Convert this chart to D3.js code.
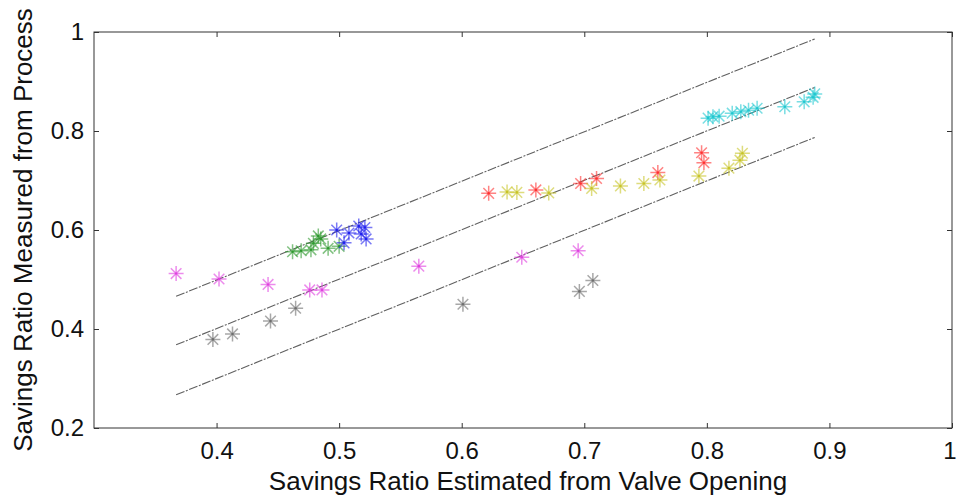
<!DOCTYPE html>
<html><head><meta charset="utf-8">
<script src="https://cdn.jsdelivr.net/npm/d3@7"></script>
<style>
html,body{margin:0;padding:0;background:#fff;}
svg text{font-family:"Liberation Sans",Arial,sans-serif;fill:#111;}
</style></head>
<body><svg id="c" width="957" height="499"></svg>
<script>
// ---- data ----
const xTicks = [0.4, 0.5, 0.6, 0.7, 0.8, 0.9, 1];
const yTicks = [0.2, 0.4, 0.6, 0.8, 1];
const xLabel = "Savings Ratio Estimated from Valve Opening";
const yLabel = "Savings Ratio Measured from Process";

const lineUpper  = [[0.367, 0.466], [0.888, 0.986]];
const lineMiddle = [[0.367, 0.368], [0.888, 0.888]];
const lineLower  = [[0.367, 0.267], [0.888, 0.787]];

const grayX    = [0.397, 0.413, 0.444, 0.4645, 0.601, 0.696, 0.707];
const grayY    = [0.379, 0.390, 0.416, 0.442, 0.450, 0.476, 0.498];
const magentaX = [0.367, 0.402, 0.442, 0.476, 0.486, 0.565, 0.649, 0.695];
const magentaY = [0.512, 0.501, 0.490, 0.479, 0.479, 0.527, 0.545, 0.558];
const greenX   = [0.462, 0.469, 0.477, 0.479, 0.483, 0.485, 0.491, 0.500];
const greenY   = [0.556, 0.558, 0.560, 0.573, 0.588, 0.582, 0.563, 0.567];
const blueX    = [0.498, 0.504, 0.508, 0.516, 0.521, 0.518, 0.522];
const blueY    = [0.600, 0.574, 0.594, 0.608, 0.605, 0.592, 0.582];
const redX     = [0.622, 0.6605, 0.697, 0.710, 0.760, 0.7957, 0.7976];
const redY     = [0.674, 0.681, 0.694, 0.704, 0.716, 0.756, 0.736];
const yellowX  = [0.637, 0.645, 0.671, 0.706, 0.7295, 0.7486, 0.7617, 0.7935, 0.818, 0.827, 0.829];
const yellowY  = [0.677, 0.676, 0.675, 0.684, 0.689, 0.694, 0.701, 0.709, 0.725, 0.741, 0.755];
const cyanX    = [0.801, 0.805, 0.810, 0.8207, 0.8277, 0.834, 0.841, 0.8636, 0.8794, 0.8867, 0.888];
const cyanY    = [0.826, 0.829, 0.830, 0.836, 0.839, 0.842, 0.846, 0.849, 0.859, 0.868, 0.875];

const series = [
  {x: grayX, y: grayY, color: "#6e6e6e"},
  {x: magentaX, y: magentaY, color: "#e040e0"},
  {x: greenX, y: greenY, color: "#2e9a2e"},
  {x: blueX, y: blueY, color: "#2020ee"},
  {x: redX, y: redY, color: "#ff3030"},
  {x: yellowX, y: yellowY, color: "#c8c428"},
  {x: cyanX, y: cyanY, color: "#20c8d0"}
];

// ---- layout ----
const L = 94, R = 952, T = 32, B = 428;
const svg = d3.select("#c");
const x = d3.scaleLinear().domain([0.3, 1]).range([L, R]);
const y = d3.scaleLinear().domain([0.2, 1]).range([B, T]);

// reference lines
const lg = d3.line().x(d => x(d[0])).y(d => y(d[1]));
[lineUpper, lineMiddle, lineLower].forEach(l => {
  svg.append("path").attr("d", lg(l)).attr("fill", "none")
    .attr("stroke", "#606060").attr("stroke-width", 1.1)
    .attr("stroke-dasharray", "9,1.5,2,1.5");
});

// markers
const A = 7.5, D = 5.3;
series.forEach(s => {
  const g = svg.append("g");
  s.x.forEach((vx, i) => {
    const cx = x(vx), cy = y(s.y[i]);
    const m = g.append("g").attr("transform", `translate(${cx},${cy})`);
    m.append("path")
      .attr("d", `M${-A},0H${A}M0,${-A}V${A}M${-D},${-D}L${D},${D}M${-D},${D}L${D},${-D}`)
      .attr("stroke", s.color).attr("stroke-width", 1.5).attr("stroke-opacity", 0.6)
      .attr("fill", "none");
    m.append("circle").attr("r", 1.3).attr("fill", s.color);
  });
});

// axes box
const axColor = "#333";
svg.append("rect").attr("x", L).attr("y", T).attr("width", R - L).attr("height", B - T)
  .attr("fill", "none").attr("stroke", axColor).attr("stroke-width", 1);

const tl = 5;
const xa = d3.axisBottom(x).tickValues(xTicks).tickSize(-tl).tickPadding(14)
  .tickFormat(d => d === 1 ? "1" : d3.format(".1f")(d));
const gx = svg.append("g").attr("transform", `translate(0,${B})`).call(xa);
gx.select(".domain").remove();
gx.selectAll("line").attr("stroke", axColor);
gx.selectAll("text").attr("font-size", 24).attr("fill", "#111")
  .attr("font-family", "Liberation Sans, Arial, sans-serif");
// keep the last label ("1") inside the window edge
gx.selectAll(".tick").filter(d => d === 1).select("text")
  .attr("text-anchor", "end").attr("x", 4);

const xt = d3.axisTop(x).tickValues(xTicks).tickSize(-tl).tickFormat("");
const gxt = svg.append("g").attr("transform", `translate(0,${T})`).call(xt);
gxt.select(".domain").remove();
gxt.selectAll("line").attr("stroke", axColor);

const ya = d3.axisLeft(y).tickValues(yTicks).tickSize(-tl).tickPadding(10)
  .tickFormat(d => d === 1 ? "1" : d3.format(".1f")(d));
const gy = svg.append("g").attr("transform", `translate(${L},0)`).call(ya);
gy.select(".domain").remove();
gy.selectAll("line").attr("stroke", axColor);
gy.selectAll("text").attr("font-size", 24).attr("fill", "#111")
  .attr("font-family", "Liberation Sans, Arial, sans-serif");

const yr = d3.axisRight(y).tickValues(yTicks).tickSize(-tl).tickFormat("");
const gyr = svg.append("g").attr("transform", `translate(${R},0)`).call(yr);
gyr.select(".domain").remove();
gyr.selectAll("line").attr("stroke", axColor);

// axis labels
svg.append("text").attr("x", 528).attr("y", 490).attr("text-anchor", "middle")
  .attr("font-size", 26).text(xLabel);
svg.append("text").attr("transform", `translate(32,${(T + B) / 2}) rotate(-90)`)
  .attr("text-anchor", "middle").attr("font-size", 26).text(yLabel);
</script>
</body></html>
